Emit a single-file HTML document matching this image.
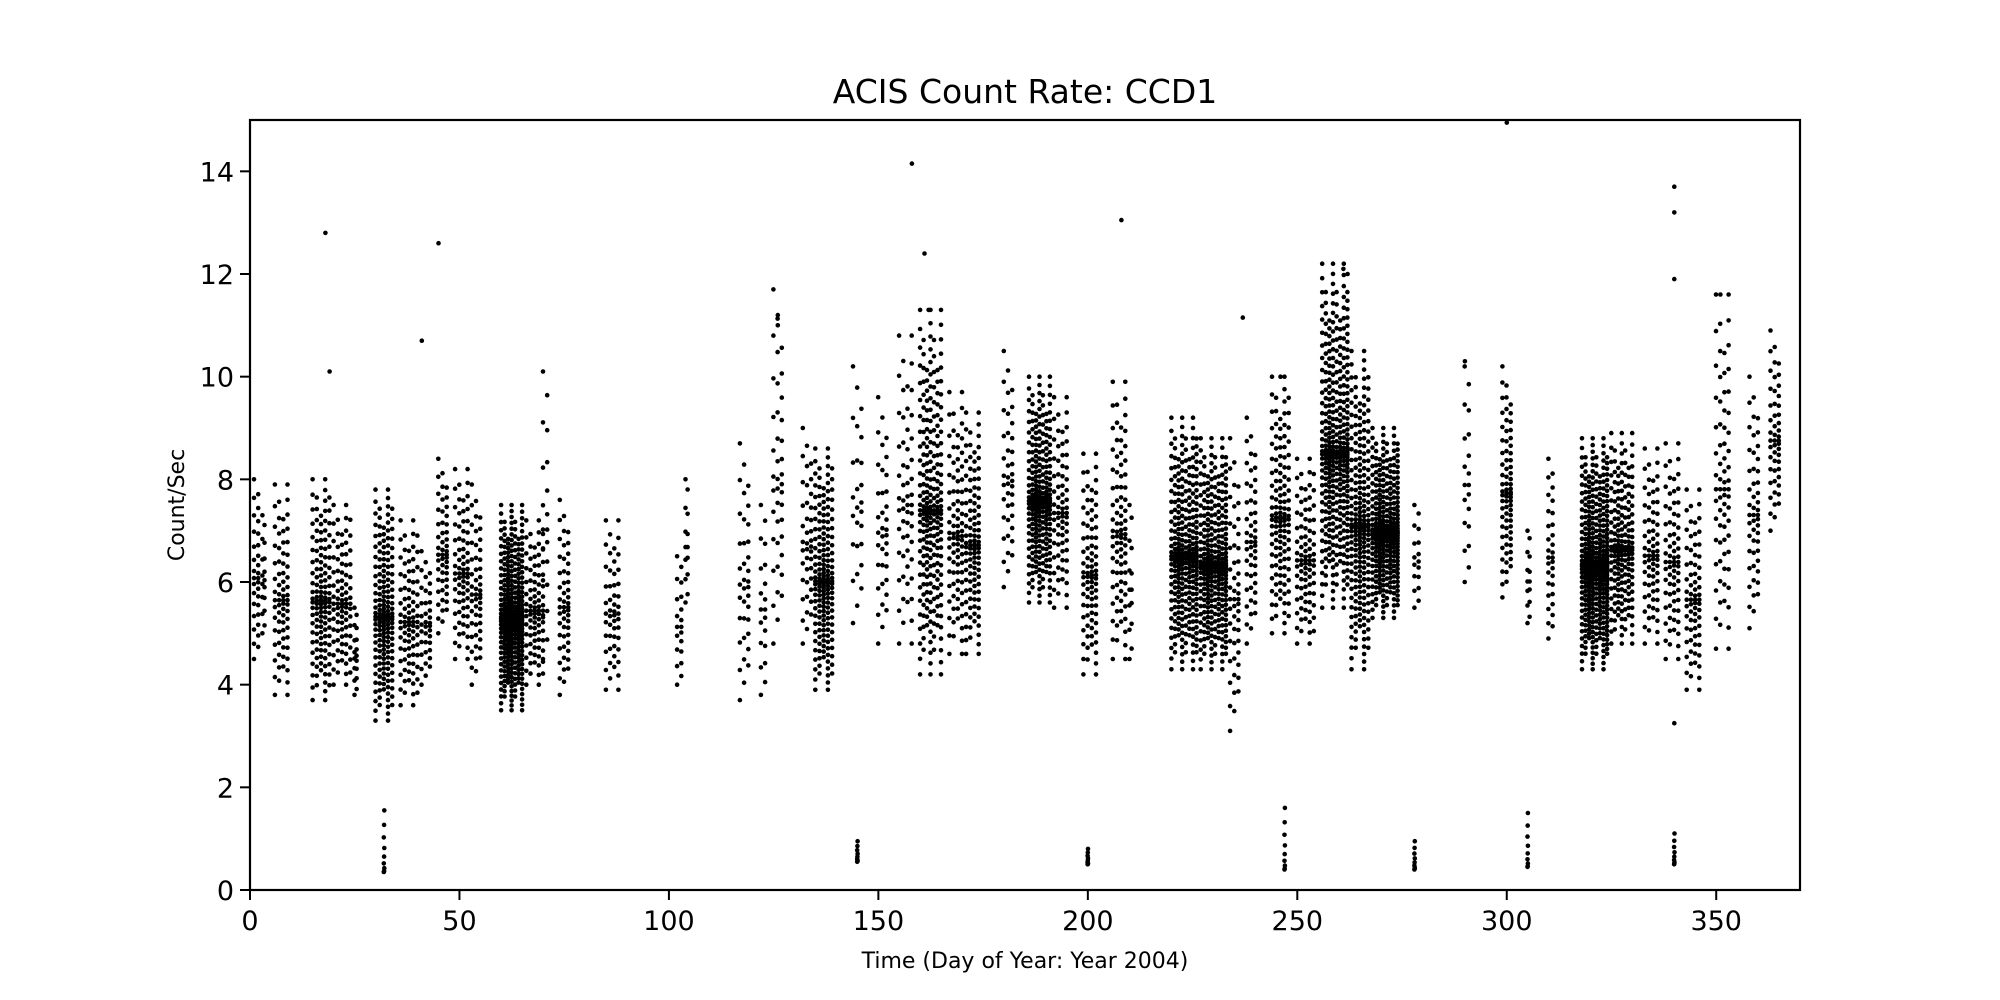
<!DOCTYPE html>
<html><head><meta charset="utf-8"><title>ACIS Count Rate: CCD1</title>
<style>
html,body{margin:0;padding:0;background:#fff;}
svg{display:block;font-family:"DejaVu Sans","Liberation Sans",sans-serif;}
</style></head>
<body>
<svg id="chart" width="2000" height="1000" viewBox="0 0 2000 1000">
<rect x="0" y="0" width="2000" height="1000" fill="#fff"/>
<text x="1025" y="103" font-size="33" text-anchor="middle">ACIS Count Rate: CCD1</text>
<g id="marks"></g>
<rect x="250" y="120" width="1550" height="770" fill="none" stroke="#000" stroke-width="2.2"/>
<g id="xticks"></g>
<g id="yticks"></g>
<text x="1025" y="976" font-size="22" text-anchor="middle" transform="translate(0,-8)">Time (Day of Year: Year 2004)</text>
<text x="0" y="0" font-size="22" text-anchor="middle" transform="translate(184,505) rotate(-90)">Count/Sec</text>
</svg>
<script>
// cluster data: start day, end day, low value, high value
const clusterStart = [1,3,6,15,20,25,30,36,41,45,49,53,60,66,70,74,85,102,104,117,122,125,132,135,144,150,155,160,167,171,180,186,192,199,206,210,220,227,234,238,244,250,256,263,268,278,290,299,305,310,318,325,333,338,343,350,358,363];
const clusterEnd   = [2,3.5,9,19,24,25.5,34,40,43,47,52,55,65,70,71,76,88,103,104.5,119,123,127,134,139,146,152,158,165,170,174,182,191,195,202,209,210.5,226,233,236,240,248,254,262,267,274,279,291,301,305.5,311,324,330,336,341,346,353,360,365];
const clusterLow   = [4.5,5,3.8,3.7,4,3.8,3.3,3.6,4,5,4.5,4,3.5,4,4.5,3.8,3.9,4,5.6,3.7,3.8,4.8,4.8,3.9,5.2,4.8,4.8,4.2,4.6,4.6,5.9,5.6,5.5,4.2,4.5,4.5,4.3,4.3,3.1,4.8,5,4.8,5.5,4.3,5.3,5.5,6,5.7,5.2,4.9,4.3,4.8,4.8,4.5,3.9,4.7,5.1,7];
const clusterHigh  = [8,7.3,7.9,8,7.5,5.5,7.8,7.2,6.6,8.4,8.2,7.9,7.5,7.2,10.1,7.6,7.2,6.5,8,8.7,7.5,11.7,9,8.6,10.2,9.6,10.8,11.3,9.7,9.3,10.5,10,9.6,8.5,9.9,7.5,9.2,8.8,8.8,9.2,10,8.4,12.2,10.5,9,7.5,10.2,10.2,7,8.4,8.8,8.9,8.6,8.7,7.8,11.6,10,10.9];
const clusterDensity = [1,0.5,1,1.5,1,0.5,2,1,0.7,1,1,1,2.5,1,0.6,1,0.7,0.6,0.4,0.7,0.6,0.8,0.8,2,0.5,0.7,0.8,2,1.2,1.5,0.8,2,1,1.2,1.2,0.4,2,2,1,1,1.5,1,2.5,2.5,2,0.5,0.6,1.5,0.4,1,2.5,1.5,1,1,1,1,1,1];
// low-rate groups
const lowDays = [32,145,200,247,278,305,340];
const lowMin  = [0.35,0.55,0.5,0.4,0.4,0.45,0.5];
const lowMax  = [1.55,0.95,0.8,1.6,0.95,1.5,1.1];
// outliers
const outX = [18,19,41,45,126,126,158,161,162,208,237,261,262,300,340,340,340,351,340,290,246];
const outY = [12.8,10.1,10.7,12.6,11.2,11.0,14.15,12.4,11.3,13.05,11.15,12.1,12.0,14.95,13.7,13.2,11.9,11.6,3.25,10.3,10.0];
const xTicks = [0,50,100,150,200,250,300,350];
const yTicks = [0,2,4,6,8,10,12,14];

const NS='http://www.w3.org/2000/svg';
const X0=250,X1=1800,Y0=890,Y1=120,XMAX=370,YMAX=15;
function xs(d){return X0+(d/XMAX)*(X1-X0);}
function ys(v){return Y0-(v/YMAX)*(Y0-Y1);}
const marks=document.getElementById('marks');
function dot(d,v){
  const c=document.createElementNS(NS,'circle');
  c.setAttribute('cx',xs(d).toFixed(1));c.setAttribute('cy',ys(v).toFixed(1));c.setAttribute('r','2.3');
  
  
  marks.appendChild(c);
}
for(let k=0;k<clusterStart.length;k++){
  const s=clusterStart[k],e=clusterEnd[k],lo=clusterLow[k],hi=clusterHigh[k];
  const mid=lo+(hi-lo)*0.45;
  const ncol=Math.max(1,Math.round((e-s)/0.9)+1);
  for(let i=0;i<ncol;i++){
    const d=ncol==1?s:s+(e-s)*i/(ncol-1);
    const edge=ncol==1?1:1-0.3*((i*7)%3)/2;
    const n=Math.round(20*clusterDensity[k]*(0.7+0.3*((i*5)%4)/3));
    for(let j=0;j<=n;j++){
      const t=j/n*2-1;
      const f=Math.sign(t)*Math.pow(Math.abs(t),1.35);
      const v=f<0? mid+f*(mid-lo)*edge : mid+f*(hi-mid)*edge;
      dot(d+((j*3)%3-1)*0.05,v);
    }
  }
}
for(let k=0;k<lowDays.length;k++){
  for(let j=0;j<=8;j++){dot(lowDays[k]+((j%3)-1)*0.05,lowMin[k]+(lowMax[k]-lowMin[k])*Math.pow(j/8,2));}
}
for(let k=0;k<outX.length;k++)dot(outX[k],outY[k]);

const xg=document.getElementById('xticks');
xTicks.forEach(t=>{
  const l=document.createElementNS(NS,'line');
  l.setAttribute('x1',xs(t));l.setAttribute('x2',xs(t));l.setAttribute('y1',Y0);l.setAttribute('y2',Y0+10);
  l.setAttribute('stroke','#000');l.setAttribute('stroke-width','2');
  
  
  xg.appendChild(l);
  const tx=document.createElementNS(NS,'text');
  tx.setAttribute('x',xs(t));tx.setAttribute('y',Y0+40);tx.setAttribute('font-size','27');tx.setAttribute('text-anchor','middle');
  
  
  tx.textContent=t;xg.appendChild(tx);
});
const yg=document.getElementById('yticks');
yTicks.forEach(t=>{
  const l=document.createElementNS(NS,'line');
  l.setAttribute('x1',X0-10);l.setAttribute('x2',X0);l.setAttribute('y1',ys(t));l.setAttribute('y2',ys(t));
  l.setAttribute('stroke','#000');l.setAttribute('stroke-width','2');
  
  
  yg.appendChild(l);
  const tx=document.createElementNS(NS,'text');
  tx.setAttribute('x',X0-16);tx.setAttribute('y',ys(t)+10);tx.setAttribute('font-size','27');tx.setAttribute('text-anchor','end');
  
  
  tx.textContent=t;yg.appendChild(tx);
});
</script>
</body></html>
